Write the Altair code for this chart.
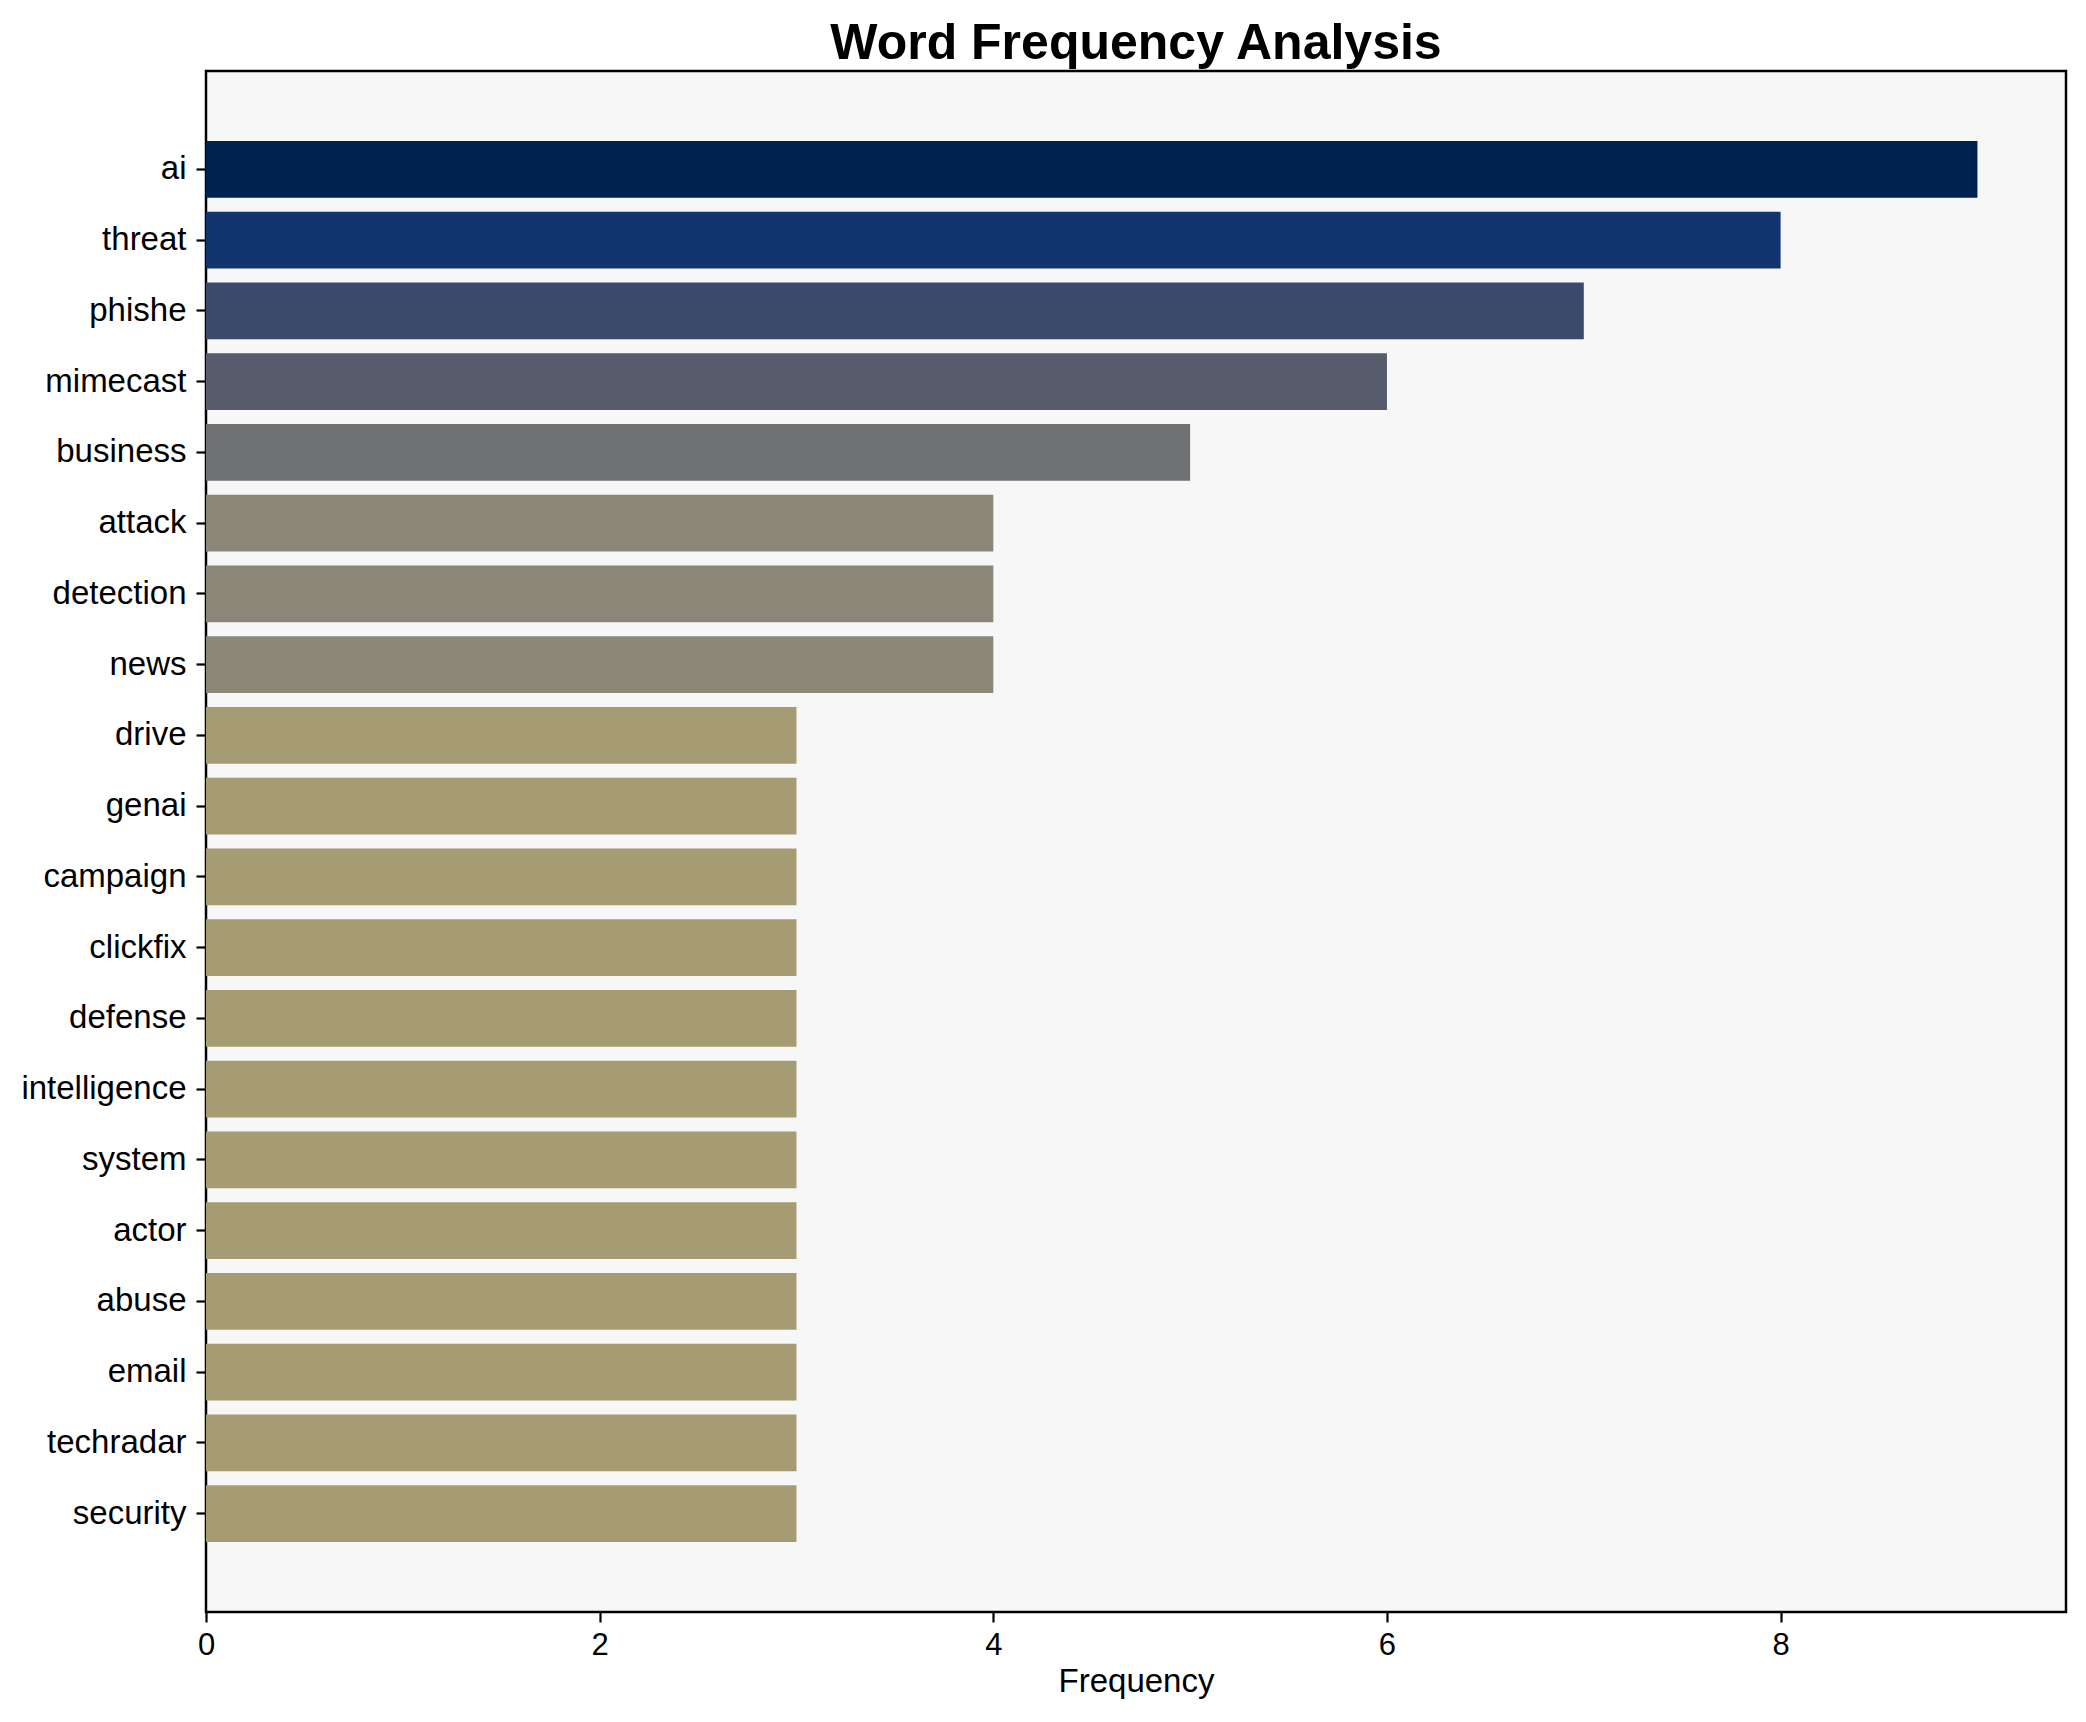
import altair as alt
import pandas as pd

words = ["ai", "threat", "phishe", "mimecast", "business", "attack", "detection", "news",
         "drive", "genai", "campaign", "clickfix", "defense", "intelligence", "system",
         "actor", "abuse", "email", "techradar", "security"]
freqs = [9, 8, 7, 6, 5, 4, 4, 4, 3, 3, 3, 3, 3, 3, 3, 3, 3, 3, 3, 3]
colors = ["#00224e", "#123570", "#3b496c", "#575d6d", "#707173", "#8a8678", "#8a8678", "#8a8678",
          "#a59c74", "#a59c74", "#a59c74", "#a59c74", "#a59c74", "#a59c74", "#a59c74",
          "#a59c74", "#a59c74", "#a59c74", "#a59c74", "#a59c74"]
x_ticks = [0, 2, 4, 6, 8]

df = pd.DataFrame({"word": words, "freq": freqs, "color": colors})

FONT = "Liberation Sans"

chart = alt.Chart(df).mark_bar().encode(
    y=alt.Y("word:N", sort=words,
            scale=alt.Scale(paddingInner=0.2, paddingOuter=0.99),
            axis=alt.Axis(title=None, labelFontSize=33, labelFont=FONT, labelColor="black",
                          tickSize=10, tickWidth=2.2, tickColor="black", labelPadding=10,
                          domain=False, grid=False)),
    x=alt.X("freq:Q", scale=alt.Scale(domain=[0, 9.45], nice=False, zero=True),
            axis=alt.Axis(title="Frequency", values=x_ticks, format="d",
                          labelFontSize=31, labelFont=FONT, labelColor="black",
                          labelFlush=False,
                          titleFontSize=33, titleFont=FONT, titleFontWeight="normal",
                          titleColor="black", titlePadding=5,
                          tickSize=10, tickWidth=2.2, tickColor="black", labelPadding=8,
                          domain=False, grid=False)),
    color=alt.Color("color:N", scale=None, legend=None),
).properties(
    width=1860,
    height=1541,
    title=alt.TitleParams("Word Frequency Analysis", fontSize=50, fontWeight="bold",
                          font=FONT, color="black", anchor="middle", offset=17, dy=15),
    autosize=alt.AutoSizeParams(type="none"),
    padding={"left": 198, "top": 63, "right": 12, "bottom": 100},
).configure(
    background="white"
).configure_view(
    stroke="black", strokeWidth=2.5, fill="#f7f7f7"
)

chart.save("out.html", embed_options={"renderer": "svg", "actions": False})
